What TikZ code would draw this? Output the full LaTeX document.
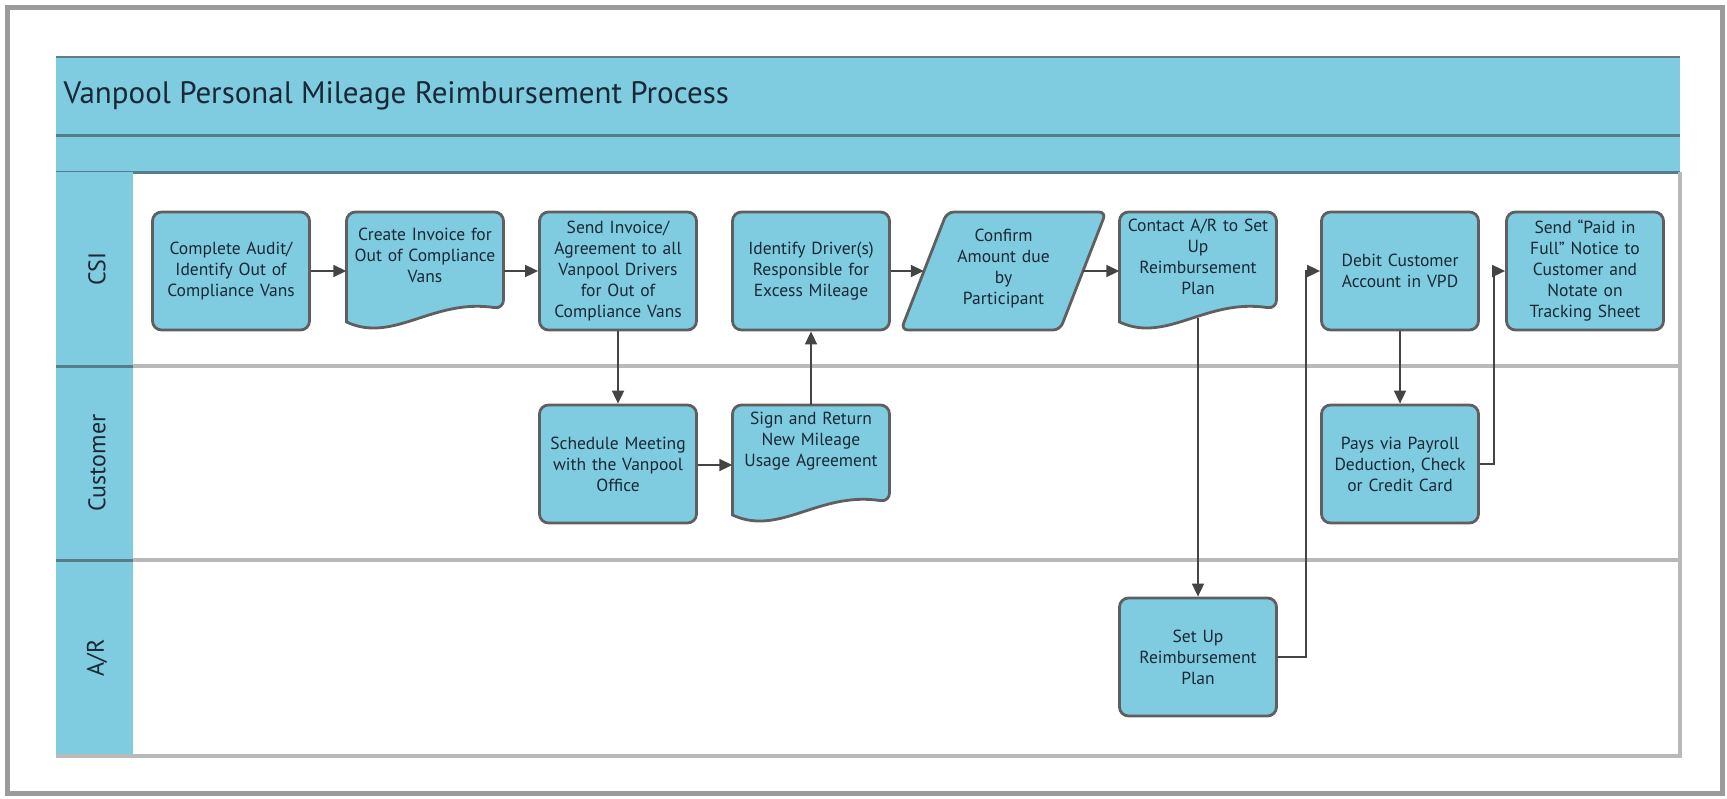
\documentclass[tikz,border=0pt]{standalone}
\usepackage{fontspec}
\setmainfont{PT Sans}
\usetikzlibrary{arrows.meta}
\definecolor{laneblue}{RGB}{127,203,224}
\definecolor{boxedge}{RGB}{95,95,95}
\definecolor{txt}{RGB}{25,40,55}
\definecolor{arrowc}{RGB}{68,68,68}
\definecolor{sepgray}{RGB}{185,185,185}
\definecolor{banddark}{RGB}{85,125,140}
\definecolor{framegray}{RGB}{155,155,155}
\pgfdeclarelayer{lanes}
\pgfdeclarelayer{shapes}
\pgfsetlayers{lanes,shapes,main}
\newcommand\docoutline[2]{%
  \draw[shapeline] ({#1-78.5},{#2+110}) [rounded corners=9pt] -- ({#1-78.5},#2) -- ({#1+78.5},#2) -- ({#1+78.5},{#2+97}) [sharp corners]
    .. controls ({#1+78.5-0.45*157},{#2+86}) and ({#1-78.5+0.3*157},{#2+132}) .. ({#1-78.5},{#2+110}) -- cycle;}
\begin{document}
\begin{tikzpicture}[x=1pt,y=-1pt,
 boxfont/.style={font=\fontsize{17.5}{21}\selectfont, text=txt},
 procbox/.style={rectangle, rounded corners=9pt, draw=boxedge, line width=2.8pt, fill=laneblue, minimum width=157pt, minimum height=118pt, text width=152pt, align=center, inner sep=0pt, boxfont},
 frameless/.style={rectangle, minimum width=157pt, minimum height=118pt, inner sep=0pt},
 shapeline/.style={draw=boxedge, line width=2.8pt, fill=laneblue},
 arr/.style={draw=arrowc, line width=1.8pt, -{Triangle[length=13pt,width=12pt]}},
 lanelabel/.style={rotate=90, font=\fontsize{24}{28}\selectfont, text=txt},
 inlabel/.style={align=center, text width=152pt, inner sep=0pt, boxfont}
]
\useasboundingbox (0,0) rectangle (1727,798);
\begin{pgfonlayer}{lanes}
  % outer frame
  \draw[framegray, line width=5pt] (7,7) rectangle (1722,793);
  % title bands
  \fill[laneblue] (56,57) rectangle (1680,172);
  \draw[banddark!70!gray, line width=1.5pt] (56,57) -- (1680,57);
  \draw[banddark, line width=3pt] (56,135) -- (1680,135);
  \draw[banddark, line width=3pt] (56,172) -- (1680,172);
  % label column
  \fill[laneblue] (56,172) rectangle (133,756);
  % lane separators
  \draw[sepgray, line width=4pt] (133,366) -- (1680,366);
  \draw[sepgray, line width=4pt] (133,560) -- (1680,560);
  \draw[sepgray, line width=4pt] (56,756) -- (1682,756);
  \draw[sepgray, line width=4pt] (1680,172) -- (1680,756);
  \draw[banddark, line width=3pt] (56,366) -- (133,366);
  \draw[banddark, line width=3pt] (56,560) -- (133,560);
\end{pgfonlayer}

\node[anchor=west, font=\fontsize{31}{35}\selectfont, text=txt] (title) at (60,96) {Vanpool Personal Mileage Reimbursement Process};

\node[lanelabel] (lcsi) at (97,269) {CSI};
\node[lanelabel] (lcust) at (97,463) {Customer};
\node[lanelabel] (lar) at (97,658) {A/R};

% CSI lane
\node[procbox] (n1) at (231,271) {Complete Audit/\\Identify Out of\\Compliance Vans};
\begin{pgfonlayer}{shapes}\docoutline{425}{212}\end{pgfonlayer}
\node[frameless, label={[inlabel, yshift=16pt]center:{Create Invoice for\\Out of Compliance\\Vans}}] (n2) at (425,271) {};
\node[procbox] (n3) at (618,271) {Send Invoice/\\Agreement to all\\Vanpool Drivers\\for Out of\\Compliance Vans};
\node[procbox] (n4) at (811,271) {Identify Driver(s)\\Responsible for\\Excess Mileage};
\begin{pgfonlayer}{shapes}
  \draw[shapeline, rounded corners=7pt] (901,330) -- (947,212) -- (1106,212) -- (1060,330) -- cycle;
\end{pgfonlayer}
\node[frameless, minimum width=159pt, label={[inlabel, yshift=2pt]center:{Confirm\\Amount due\\by\\Participant}}] (n5) at (1003.5,271) {};
\begin{pgfonlayer}{shapes}\docoutline{1198}{212}\end{pgfonlayer}
\node[frameless, label={[inlabel, yshift=14pt]center:{Contact A/R to Set\\Up\\Reimbursement\\Plan}}] (n6) at (1198,271) {};
\node[procbox] (n7) at (1400,271) {Debit Customer\\Account in VPD\\[24pt]};
\node[procbox] (n8) at (1585,271) {Send “Paid in\\Full” Notice to\\Customer and\\Notate on\\Tracking Sheet};

% Customer lane
\node[procbox] (n9) at (618,464) {Schedule Meeting\\with the Vanpool\\Office};
\begin{pgfonlayer}{shapes}\docoutline{811}{405}\end{pgfonlayer}
\node[frameless, label={[inlabel, yshift=23pt]center:{Sign and Return\\New Mileage\\Usage Agreement}}] (n10) at (811,464) {};
\node[procbox] (n11) at (1400,464) {Pays via Payroll\\Deduction, Check\\or Credit Card};

% A/R lane
\node[procbox] (n12) at (1198,657) {Set Up\\Reimbursement\\Plan};

% connectors
\draw[arr] (n1) -- (n2);
\draw[arr] (n2) -- (n3);
\draw[arr] (n3) -- (n9);
\draw[arr] (n9.east |- 0,465) -- (n10.west |- 0,465);
\draw[arr] (n10) -- (n4);
\draw[arr] (n4) -- (n5);
\draw[arr] (n5) -- (n6);
\draw[arr] ([yshift=12pt]n6.south) -- (n12.north);
\draw[arr] (n12.east) -- ++(28,0) |- (n7.west);
\draw[arr] (n7) -- (n11);
\draw[arr] (n11.east) -- ++(14,0) |- (n8.west);
\end{tikzpicture}
\end{document}
